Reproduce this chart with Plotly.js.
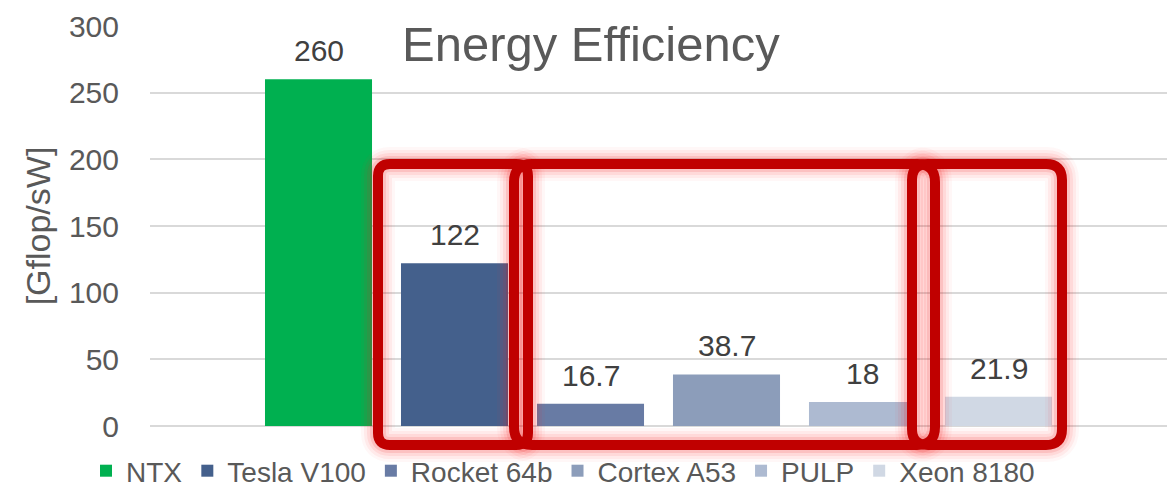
<!DOCTYPE html>
<html>
<head>
<meta charset="utf-8">
<script src="https://cdn.plot.ly/plotly-3.0.1.min.js"></script>
<style>html,body{margin:0;padding:0;background:#fff;}#chart{width:1167px;height:494px;}</style>
</head>
<body>
<div id="chart"></div>
<script>
const categories = ["NTX", "Tesla V100", "Rocket 64b", "Cortex A53", "PULP", "Xeon 8180"];
const values = [260, 122, 16.7, 38.7, 18, 21.9];
const valueLabels = ["260", "122", "16.7", "38.7", "18", "21.9"];
const colors = ["#00B050", "#44608C", "#687BA4", "#8C9DBA", "#ADBAD1", "#D0D8E4"];

const W = 1167, H = 494, ML = 150, MR = 0, MT = 26, MB = 68;
const PW = W - ML - MR, PH = H - MT - MB;
const FONT = '"Liberation Sans", Arial, sans-serif';

const traces = categories.map((c, i) => ({
  type: 'bar',
  name: c,
  x: [c],
  y: [values[i]],
  marker: {color: colors[i], line: {width: 0}},
  hoverinfo: 'name+y'
}));

const annotations = categories.map((c, i) => ({
  x: c, y: values[i], xref: 'x', yref: 'y',
  text: valueLabels[i], showarrow: false,
  yanchor: 'bottom', yshift: 10,
  font: {family: FONT, size: 30, color: '#404040'}
}));

annotations.push({
  xref: 'paper', yref: 'paper',
  x: (591 - ML) / PW, y: (MT + PH - 44) / PH,
  xanchor: 'center', yanchor: 'middle',
  text: 'Energy Efficiency', showarrow: false,
  bgcolor: '#ffffff', borderpad: 4,
  font: {family: FONT, size: 49, color: '#595959'}
});

// pixel -> paper helpers
const px = v => (v - ML) / PW;
const py = v => (MT + PH - v) / PH;
function roundRect(x0, y0, x1, y1, r) {
  const rx = r / PW, ry = r / PH;
  const X0 = px(x0), X1 = px(x1), YT = py(y0), YB = py(y1);
  return `M${X0 + rx},${YT} L${X1 - rx},${YT} Q${X1},${YT} ${X1},${YT - ry} ` +
         `L${X1},${YB + ry} Q${X1},${YB} ${X1 - rx},${YB} L${X0 + rx},${YB} ` +
         `Q${X0},${YB} ${X0},${YB + ry} L${X0},${YT - ry} Q${X0},${YT} ${X0 + rx},${YT} Z`;
}
const boxes = [
  [378, 164, 528, 445, 12],
  [514, 164, 935, 445, 18],
  [912, 164, 1062, 445, 16]
];
const glow = [
  {w: 34, c: 'rgba(255,60,60,0.04)'},
  {w: 28, c: 'rgba(255,40,40,0.06)'},
  {w: 22, c: 'rgba(250,30,30,0.08)'},
  {w: 16, c: 'rgba(230,0,0,0.11)'}
];
const shapes = [];
glow.forEach(g => boxes.forEach(b => shapes.push({
  type: 'path', xref: 'paper', yref: 'paper', layer: 'above',
  path: roundRect(b[0], b[1], b[2], b[3], b[4]),
  line: {color: g.c, width: g.w}, fillcolor: 'rgba(0,0,0,0)'
})));
boxes.forEach(b => shapes.push({
  type: 'path', xref: 'paper', yref: 'paper', layer: 'above',
  path: roundRect(b[0], b[1], b[2], b[3], b[4]),
  line: {color: '#C00000', width: 10}, fillcolor: 'rgba(0,0,0,0)'
}));

const layout = {
  width: W, height: H,
  margin: {l: ML, r: MR, t: MT, b: MB, pad: 0},
  paper_bgcolor: '#ffffff', plot_bgcolor: '#ffffff',
  font: {family: FONT, color: '#595959'},
  barmode: 'overlay',
  bargap: 0.213,
  showlegend: true,
  legend: {
    orientation: 'h', xref: 'paper', yref: 'container',
    x: (563 - ML) / PW, xanchor: 'center',
    y: 1 - 471 / H, yanchor: 'middle',
    font: {family: FONT, size: 28, color: '#595959'},
    itemwidth: 30, traceorder: 'normal', bgcolor: 'rgba(0,0,0,0)'
  },
  xaxis: {
    type: 'category', categoryorder: 'array', categoryarray: categories,
    range: [-1.239, 6.239], showticklabels: false, showgrid: false,
    zeroline: false, showline: false, ticks: '', fixedrange: true
  },
  yaxis: {
    range: [0, 300], dtick: 50, tick0: 0,
    showgrid: true, gridcolor: '#D9D9D9', gridwidth: 2,
    zeroline: true, zerolinecolor: '#D9D9D9', zerolinewidth: 2,
    showline: false, ticks: '', ticklabelstandoff: 30,
    tickfont: {family: FONT, size: 30, color: '#595959'},
    title: {text: '[Gflop/sW]', standoff: 8, font: {family: FONT, size: 34, color: '#595959'}},
    automargin: false, fixedrange: true
  },
  annotations: annotations,
  shapes: shapes
};

Plotly.newPlot('chart', traces, layout, {displayModeBar: false, staticPlot: true});
</script>
</body>
</html>
